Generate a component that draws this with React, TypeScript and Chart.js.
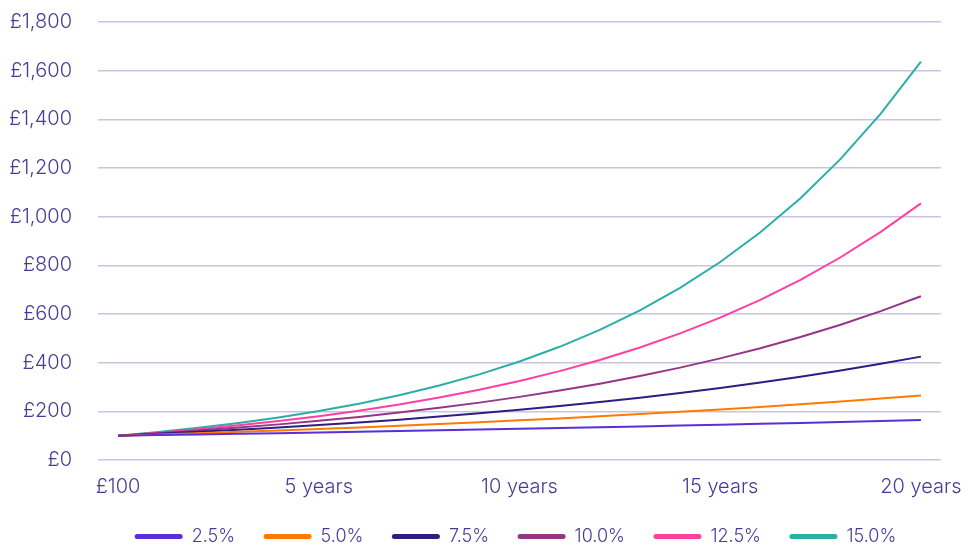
import React, { useEffect, useRef } from "react";
import { Chart, registerables } from "chart.js";

Chart.register(...registerables);

const xLabels = ["£100", "", "", "", "", "5 years", "", "", "", "", "10 years", "", "", "", "", "15 years", "", "", "", "", "20 years"];

const seriesNames = ["2.5%", "5.0%", "7.5%", "10.0%", "12.5%", "15.0%"];
const seriesColors = ["#5a2ed8", "#ff7a00", "#2e1d82", "#973585", "#ff3fa2", "#2aafa6"];

const rate25 = [100, 102.5, 105.1, 107.7, 110.4, 113.1, 116.0, 118.9, 121.8, 124.9, 128.0, 131.2, 134.5, 137.9, 141.3, 144.8, 148.5, 152.2, 156.0, 159.9, 163.9];
const rate50 = [100, 105, 110.3, 115.8, 121.6, 127.6, 134.0, 140.7, 147.7, 155.1, 162.9, 171.0, 179.6, 188.6, 198.0, 207.9, 218.3, 229.2, 240.7, 252.7, 265.3];
const rate75 = [100, 107.5, 115.6, 124.2, 133.5, 143.6, 154.3, 165.9, 178.3, 191.7, 206.1, 221.6, 238.2, 256.0, 275.2, 295.9, 318.1, 341.9, 367.6, 395.1, 424.8];
const rate100 = [100, 110, 121, 133.1, 146.4, 161.1, 177.2, 194.9, 214.4, 235.8, 259.4, 285.3, 313.8, 345.2, 379.7, 417.7, 459.5, 505.4, 556.0, 611.6, 672.7];
const rate125 = [100, 112.5, 126.6, 142.4, 160.2, 180.2, 202.7, 228.1, 256.6, 288.7, 324.7, 365.3, 411.0, 462.4, 520.2, 585.2, 658.3, 740.6, 833.2, 937.3, 1054.5];
const rate150 = [100, 115, 132.3, 152.1, 174.9, 201.1, 231.3, 266.0, 305.9, 351.8, 404.6, 465.2, 535.0, 615.3, 707.6, 813.7, 935.8, 1076.1, 1237.5, 1423.2, 1636.7];

const seriesValues = [rate25, rate50, rate75, rate100, rate125, rate150];

const yMin = 0;
const yMax = 1800;
const yStep = 200;

const FONT = "Inter, 'Open Sans', sans-serif";
const FSIZE = 20;
const LSIZE = 18;
const TEXT = "#4a3a98";
const GRID = "#c9c4e2";

const legendShift = {
  id: "legendShift",
  afterLayout(chart: any) {
    const lg = chart.legend;
    if (lg) {
      lg.left += 45;
      lg.right += 45;
    }
  },
};

export default function App() {
  const ref = useRef<HTMLCanvasElement | null>(null);
  useEffect(() => {
    document.body.style.margin = "0";
    const ctx = ref.current!;
    const chart = new Chart(ctx, {
      type: "line",
      data: {
        labels: xLabels,
        datasets: seriesNames.map((name, i) => ({
          label: name,
          data: seriesValues[i],
          borderColor: seriesColors[i],
          backgroundColor: seriesColors[i],
          borderWidth: 2,
          pointRadius: 0,
          tension: 0,
          fill: false,
        })),
      },
      options: {
        animation: false,
        responsive: false,
        maintainAspectRatio: false,
        layout: { padding: { top: 22, right: 30, bottom: 0, left: 0 } },
        plugins: {
          tooltip: { enabled: false },
          legend: {
            position: "bottom",
            labels: {
              boxWidth: 48,
              boxHeight: 5,
              useBorderRadius: true,
              borderRadius: 2.5,
              padding: 28.5,
              color: TEXT,
              font: { family: FONT, size: LSIZE, weight: "300" as any },
              generateLabels: (c: any) =>
                c.data.datasets.map((d: any, i: number) => ({
                  text: d.label,
                  fillStyle: d.borderColor,
                  strokeStyle: d.borderColor,
                  lineWidth: 0,
                  fontColor: TEXT,
                  borderRadius: 2.5,
                  datasetIndex: i,
                  hidden: false,
                })),
            },
          },
        },
        scales: {
          x: {
            type: "category",
            offset: true,
            grid: { display: false, drawTicks: false },
            border: { display: false },
            afterFit: (s: any) => {
              s.height = 39;
              s.paddingLeft = 0;
              s.paddingRight = 0;
            },
            ticks: {
              autoSkip: false,
              maxRotation: 0,
              padding: 15,
              color: TEXT,
              font: { family: FONT, size: FSIZE, weight: "300" as any },
            },
          },
          y: {
            min: yMin,
            max: yMax,
            grid: { color: GRID, lineWidth: 1.5, drawTicks: false },
            border: { display: false },
            afterFit: (s: any) => {
              s.width = 98;
              s.paddingTop = 10;
              s.paddingBottom = 10;
            },
            ticks: {
              stepSize: yStep,
              padding: 26,
              color: TEXT,
              font: { family: FONT, size: FSIZE, weight: "300" as any },
              callback: (v: any) => "£" + Number(v).toLocaleString("en-GB"),
            },
          },
        },
      },
      plugins: [legendShift],
    });
    const lg: any = (chart as any).legend;
    if (lg) {
      const origFit = lg.fit.bind(lg);
      lg.fit = function () {
        origFit();
        this.height = 46;
      };
      chart.update();
    }
    return () => chart.destroy();
  }, []);
  return (
    <div style={{ width: 971, height: 545 }}>
      <canvas ref={ref} width={971} height={545} style={{ display: "block" }} />
    </div>
  );
}
